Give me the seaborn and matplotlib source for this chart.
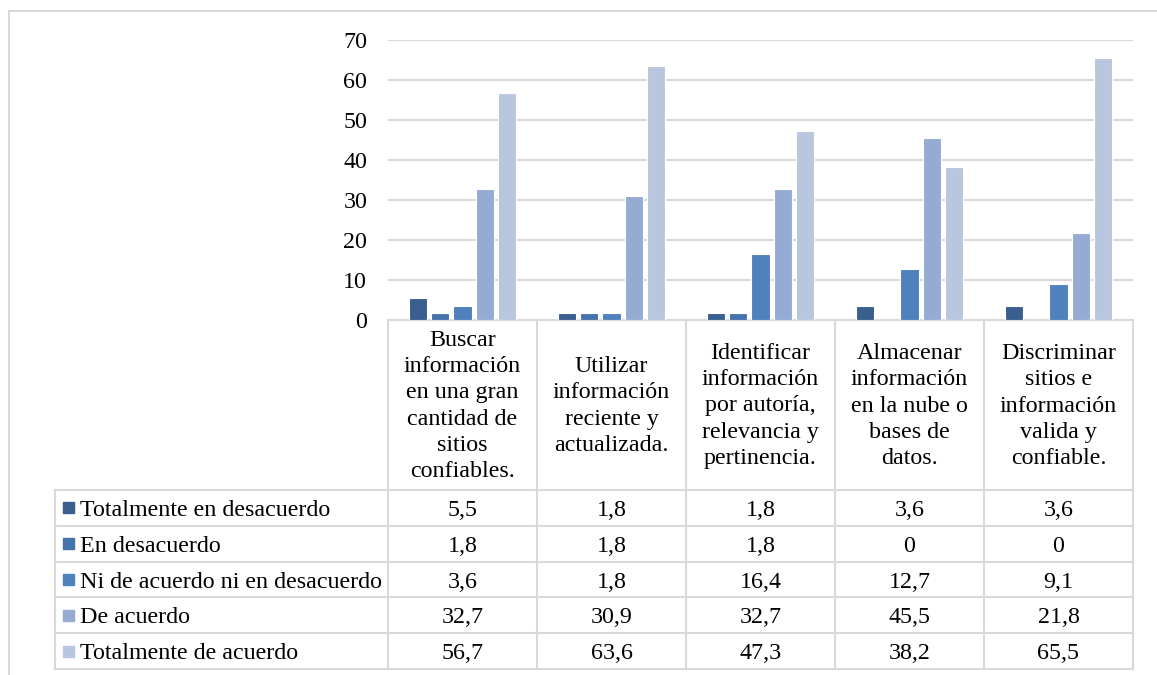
import numpy as np
import pandas as pd
import seaborn as sns
from matplotlib import pyplot as plt
from matplotlib.patches import Rectangle

categorias = ["Buscar\ninformación\nen una gran\ncantidad de\nsitios\nconfiables.",
              "Utilizar\ninformación\nreciente y\nactualizada.",
              "Identificar\ninformación\npor autoría,\nrelevancia y\npertinencia.",
              "Almacenar\ninformación\nen la nube o\nbases de\ndatos.",
              "Discriminar\nsitios e\ninformación\nvalida y\nconfiable."]
niveles = ["Totalmente en desacuerdo", "En desacuerdo",
           "Ni de acuerdo ni en desacuerdo", "De acuerdo", "Totalmente de acuerdo"]
totalmente_desacuerdo = [5.5, 1.8, 1.8, 3.6, 3.6]
en_desacuerdo = [1.8, 1.8, 1.8, 0, 0]
ni_ni = [3.6, 1.8, 16.4, 12.7, 9.1]
de_acuerdo = [32.7, 30.9, 32.7, 45.5, 21.8]
totalmente_acuerdo = [56.7, 63.6, 47.3, 38.2, 65.5]
colores = ["#3A5F8E", "#4673AC", "#4F81BD", "#95ABD3", "#B9C6E0"]

series = [totalmente_desacuerdo, en_desacuerdo, ni_ni, de_acuerdo, totalmente_acuerdo]
df = pd.DataFrame([(c, n, v) for n, vals in zip(niveles, series)
                   for c, v in zip(categorias, vals)],
                  columns=["cat", "nivel", "valor"])

plt.rcParams['font.family'] = ['Liberation Serif', 'DejaVu Serif']
fs = 17.3
W, H = 1157, 675
fig = plt.figure(figsize=(W / 100, H / 100), dpi=100)

# fondo en pixeles para la tabla
bg = fig.add_axes([0, 0, 1, 1], zorder=0)
bg.set_xlim(0, W)
bg.set_ylim(H, 0)
bg.axis('off')

x0, x1 = 388, 1133
y_top, y_zero = 40, 320
ax = fig.add_axes([x0 / W, 1 - y_zero / H, (x1 - x0) / W, (y_zero - y_top) / H], zorder=1)
ax.set_facecolor('none')
sns.barplot(data=df, x="cat", y="valor", hue="nivel", order=categorias, hue_order=niveles,
            palette=colores, saturation=1, width=0.74, gap=0.18, edgecolor='white',
            linewidth=0.8, legend=False, ax=ax)
ax.set_ylim(0, 70)
ax.set_xlim(-0.5, len(categorias) - 0.5)
ax.set_yticks(range(0, 71, 10))
ax.yaxis.grid(True, color='#D9D9D9', lw=1.5)
ax.set_axisbelow(True)
for s in ax.spines.values():
    s.set_visible(False)
ax.tick_params(axis='y', length=0, pad=15, labelsize=fs)
ax.tick_params(axis='x', length=0, labelbottom=False)
ax.set_xlabel("")
ax.set_ylabel("")

lc = '#D9D9D9'
lw = 1.5
# marco exterior
bg.plot([8.5, W], [10.5, 10.5], color=lc, lw=lw)
bg.plot([8.5, 8.5], [10.5, H], color=lc, lw=lw)

col_w = (x1 - x0) / len(categorias)
tl = 55
rows = np.linspace(490, 669, len(niveles) + 1)
# cabecera
bg.plot([x0, x1], [y_zero, y_zero], color=lc, lw=lw)
for i in range(len(categorias) + 1):
    bg.plot([x0 + i * col_w] * 2, [y_zero, rows[-1]], color=lc, lw=lw)
for i, c in enumerate(categorias):
    bg.text(x0 + (i + 0.5) * col_w, (y_zero + rows[0]) / 2 + 1, c, ha='center', va='center',
            fontsize=fs, linespacing=1.32)
# filas
for r in rows:
    bg.plot([tl, x1], [r, r], color=lc, lw=lw)
bg.plot([tl, tl], [rows[0], rows[-1]], color=lc, lw=lw)
for j, (n, vals) in enumerate(zip(niveles, series)):
    yc = (rows[j] + rows[j + 1]) / 2
    bg.add_patch(Rectangle((63, yc - 5.5), 11, 11, color=colores[j]))
    bg.text(80, yc, n, ha='left', va='center_baseline', fontsize=fs)
    for i, v in enumerate(vals):
        txt = "0" if v == 0 else f"{v:.1f}".replace('.', ',')
        bg.text(x0 + (i + 0.5) * col_w, yc, txt, ha='center', va='center_baseline', fontsize=fs)

fig.savefig('out.png', dpi=100)
